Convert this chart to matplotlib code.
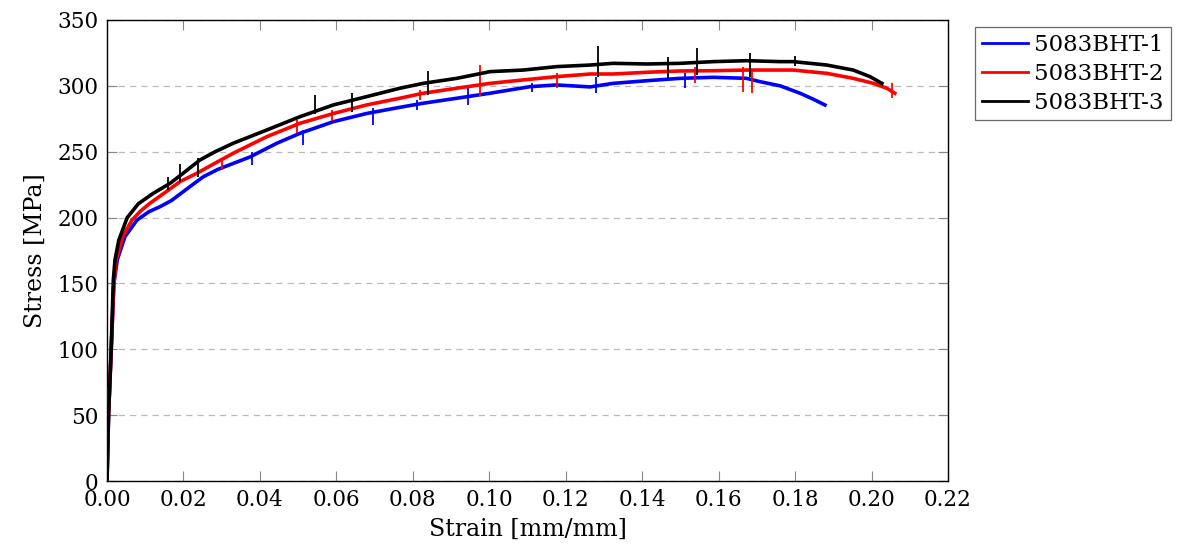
import matplotlib
matplotlib.use("Agg")
import matplotlib.pyplot as plt
from matplotlib.lines import Line2D

plt.rcParams["font.family"] = ["DejaVu Serif"]
plt.rcParams["mathtext.fontset"] = "dejavuserif"

# Tensile test curves, strain [mm/mm] vs engineering stress [MPa]
strain_1 = [0, 0.0004, 0.0011, 0.0018, 0.0027, 0.0047, 0.0078, 0.011, 0.0139, 0.0169, 0.0217,
            0.0252, 0.029, 0.0374, 0.0444, 0.0505, 0.0592, 0.0679, 0.0766, 0.0827, 0.0915,
            0.1002, 0.1107, 0.1176, 0.1264, 0.1324, 0.1412, 0.1499, 0.1586, 0.1673, 0.1708,
            0.1761, 0.1813, 0.1848, 0.1878]
stress_1 = [0, 50, 100, 150, 168, 185.5, 198, 204.5, 208.3, 213, 223.5,
            231, 236.6, 246, 256.4, 264, 272.8, 279, 283.7, 286.8, 290.6,
            294.4, 299.4, 300.7, 299.2, 301.9, 303.9, 305.7, 306.5, 305.7, 303.2,
            300, 294.4, 289.8, 285.5]

strain_2 = [0, 0.0004, 0.0011, 0.0018, 0.0024, 0.0041, 0.0065, 0.0088, 0.0112, 0.0147, 0.0191,
            0.0235, 0.0287, 0.033, 0.0418, 0.0505, 0.0592, 0.0679, 0.0766, 0.0827, 0.0915,
            0.1002, 0.1089, 0.1176, 0.1264, 0.1324, 0.1412, 0.1499, 0.1586, 0.1673, 0.1761,
            0.1795, 0.1883, 0.1952, 0.2005, 0.204, 0.2061]
stress_2 = [0, 50, 100, 150, 168, 185.5, 198, 205, 210.8, 218, 227.3,
            233.6, 242, 248.8, 261.4, 271.6, 279, 285.5, 290.6, 294.4, 298.2,
            301.9, 304.5, 307, 309, 309, 310.3, 311.3, 311.5, 312, 312,
            312, 309.5, 305.7, 301.9, 298.2, 294.4]

strain_3 = [0, 0.0004, 0.0011, 0.00165, 0.0021, 0.0031, 0.0053, 0.0082, 0.0121, 0.0165, 0.0199,
            0.0243, 0.0283, 0.033, 0.0418, 0.0505, 0.0592, 0.0679, 0.0766, 0.0827, 0.0915,
            0.1002, 0.1089, 0.1176, 0.1264, 0.1324, 0.1412, 0.1499, 0.1586, 0.1673, 0.1761,
            0.1795, 0.1883, 0.1952, 0.1996, 0.2027]
stress_3 = [0, 50, 100, 152.6, 168, 183, 200, 210.5, 218.4, 226, 233.6,
            243.7, 250, 256.4, 266.5, 276.6, 285.5, 291.8, 298.2, 301.9, 305.7,
            310.8, 312, 314.6, 315.8, 317.1, 316.6, 317.1, 318.4, 319.1, 318.4,
            318.4, 315.8, 312, 307, 301.9]

# Serration spikes: strain position, lowest and highest stress of each jump
spike_x_1 = [0.0379, 0.0514, 0.0697, 0.081, 0.0945, 0.1111, 0.128, 0.1512]
spike_lo_1 = [240, 255, 270, 282, 285.5, 295.6, 294.4, 298]
spike_hi_1 = [250, 266.5, 283, 289, 299.4, 302, 307, 309.5]

spike_x_2 = [0.03, 0.0496, 0.0588, 0.0819, 0.0976, 0.1176, 0.1538, 0.1665, 0.1686, 0.2053]
spike_lo_2 = [236, 264, 273, 289, 292, 298, 302, 295.6, 294.4, 290.6]
spike_hi_2 = [243.7, 274, 281.7, 297, 316, 310, 314.6, 314.6, 313, 302]

spike_x_3 = [0.016, 0.0191, 0.0239, 0.0544, 0.064, 0.084, 0.1285, 0.1468, 0.1543, 0.1682, 0.18]
spike_lo_3 = [221, 227, 231, 279, 280, 293, 307, 306, 308, 307, 315]
spike_hi_3 = [231, 241, 245, 293, 294.6, 311, 330, 322, 328.5, 325, 323]

labels = ["5083BHT-1", "5083BHT-2", "5083BHT-3"]
colors = ["#0000ff", "#ff0000", "#000000"]

fig = plt.figure(figsize=(11.78, 5.54), dpi=100)
ax = fig.add_axes([107 / 1178, 1 - 481 / 554, 841 / 1178, 461 / 554])

series = [
    (strain_1, stress_1, spike_x_1, spike_lo_1, spike_hi_1),
    (strain_2, stress_2, spike_x_2, spike_lo_2, spike_hi_2),
    (strain_3, stress_3, spike_x_3, spike_lo_3, spike_hi_3),
]
for (sx, sy, kx, klo, khi), c in zip(series, colors):
    ax.plot(sx, sy, color=c, lw=2.6, solid_joinstyle="round", zorder=3)
    ax.vlines(kx, klo, khi, color=c, lw=1.3, zorder=3)

ax.set_xlim(0, 0.22)
ax.set_ylim(0, 350)
ax.set_xticks([0.00, 0.02, 0.04, 0.06, 0.08, 0.10, 0.12, 0.14, 0.16, 0.18, 0.20, 0.22])
ax.set_xticklabels([f"{v:.2f}" for v in ax.get_xticks()])
ax.set_yticks(range(0, 351, 50))

ax.yaxis.grid(True, color="#bbbbbb", lw=0.9, linestyle=(0, (5, 4)))
ax.set_axisbelow(True)
ax.tick_params(direction="in", length=7, width=0.8, color="#888888",
               top=True, right=True, labelsize=15.5, pad=6)
for sp in ax.spines.values():
    sp.set_linewidth(1.0)
    sp.set_color("black")

ax.set_xlabel("Strain [mm/mm]", fontsize=17, labelpad=5)
ax.set_ylabel("Stress [MPa]", fontsize=17, labelpad=8)

handles = [Line2D([], [], color=c, lw=2.0) for c in colors]
leg = ax.legend(handles, labels, loc="upper left", bbox_to_anchor=(1.032, 0.985),
                borderaxespad=0, fontsize=16.5, frameon=True, fancybox=False,
                edgecolor="#444444", handlelength=2.0, handletextpad=0.3,
                labelspacing=0.3, borderpad=0.3)
leg.get_frame().set_linewidth(0.9)

fig.savefig("out.png", dpi=100)
